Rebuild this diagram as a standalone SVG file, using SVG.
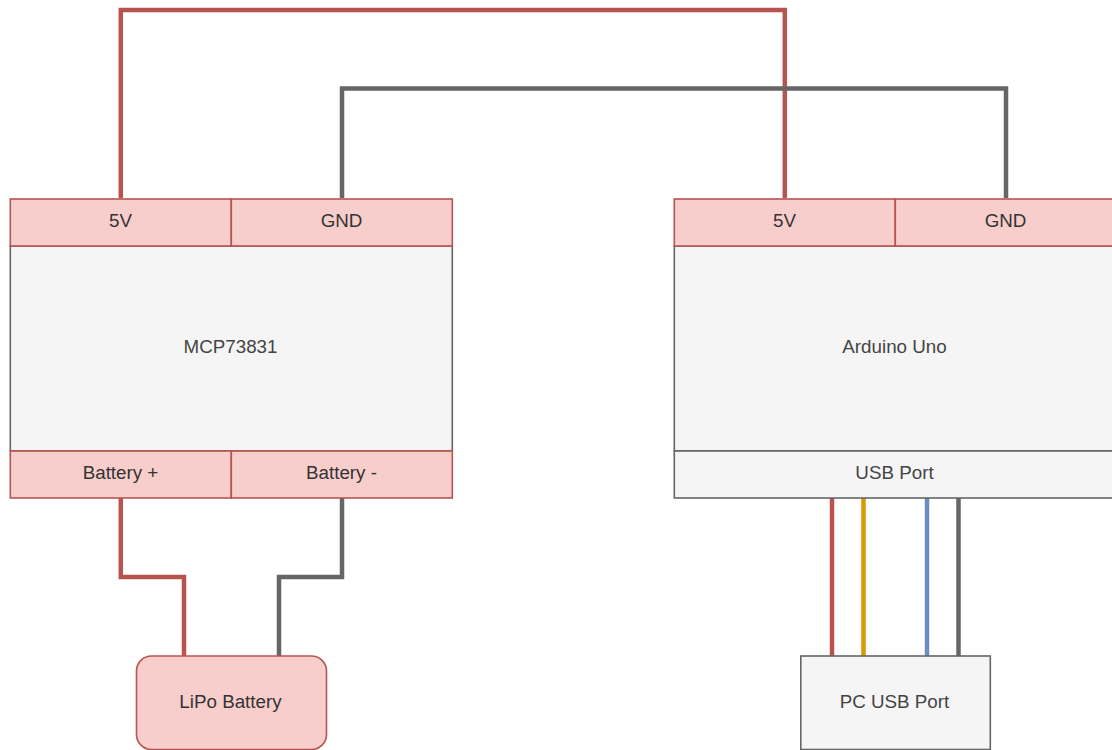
<svg xmlns="http://www.w3.org/2000/svg" width="1112" height="750" viewBox="0 0 1112 750">
<style>
text{font-family:"Liberation Sans",Arial,sans-serif;font-size:18.8px;text-anchor:middle;dominant-baseline:central}
.r{fill:#f8cecc;stroke:#b85450;stroke-width:1.6}
.g{fill:#f5f5f5;stroke:#666;stroke-width:1.6}
.dk{fill:#333}
.lg{fill:#444}
.w{fill:none;stroke-width:4.500}
.red{stroke:#b85450}.gry{stroke:#666}.ora{stroke:#d79b00}.blu{stroke:#6c8ebf}
</style>
<rect width="1112" height="750" fill="#fff"/>
<g id="connectors">
<path class="w red" d="M120.800 198V10H784.800V198"/>
<path class="w gry" d="M342 198V88.500H1006V198"/>
<path class="w red" d="M120.800 497V577H184V656"/>
<path class="w gry" d="M342 497V577H279V656"/>
<path class="w red" d="M832 497V656"/>
<path class="w ora" d="M863.500 497V656"/>
<path class="w blu" d="M927 497V656"/>
<path class="w gry" d="M958.500 497V656"/>
</g>
<g id="mcp73831">
<rect class="g" x="10.300" y="246" width="442" height="205"/>
<text class="lg" x="230.500" y="346">MCP73831</text>
</g>
<g id="mcp-5v"><rect class="r" x="10.300" y="199" width="221" height="47"/><text class="dk" x="120.500" y="220">5V</text></g>
<g id="mcp-gnd"><rect class="r" x="231.300" y="199" width="221" height="47"/><text class="dk" x="341.500" y="220">GND</text></g>
<g id="mcp-batp"><rect class="r" x="10.300" y="451" width="221" height="47"/><text class="dk" x="120.500" y="472">Battery +</text></g>
<g id="mcp-batn"><rect class="r" x="231.300" y="451" width="221" height="47"/><text class="dk" x="341.500" y="472">Battery -</text></g>
<g id="arduino">
<rect class="g" x="674.300" y="246" width="442" height="205"/>
<text class="lg" x="894.500" y="346">Arduino Uno</text>
</g>
<g id="uno-5v"><rect class="r" x="674.300" y="199" width="221" height="47"/><text class="dk" x="784.500" y="220">5V</text></g>
<g id="uno-gnd"><rect class="r" x="895.300" y="199" width="221" height="47"/><text class="dk" x="1005.500" y="220">GND</text></g>
<g id="uno-usb"><rect class="g" x="674.300" y="451" width="442" height="47"/><text class="lg" x="894.500" y="472">USB Port</text></g>
<g id="lipo"><rect class="r" x="136.500" y="656" width="190" height="93.500" rx="15"/><text class="dk" x="230.500" y="701">LiPo Battery</text></g>
<g id="pc-usb"><rect class="g" x="800.800" y="656" width="189.500" height="93.500"/><text class="lg" x="894.500" y="701">PC USB Port</text></g>
</svg>
